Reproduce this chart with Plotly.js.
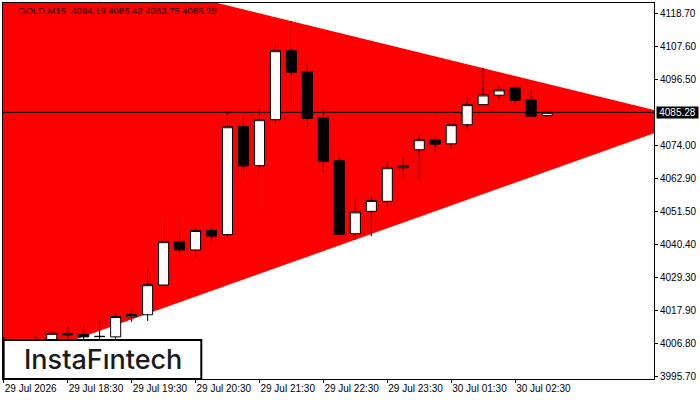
<!DOCTYPE html>
<html>
<head>
<meta charset="utf-8">
<script src="https://cdn.plot.ly/plotly-3.0.1.min.js"></script>
<style>
  html, body { margin: 0; padding: 0; background: #fff; }
  #chart { width: 700px; height: 400px; }
</style>
</head>
<body>
<div id="chart"></div>
<script>
const candleIndex = [0,1,2,3,4,5,6,7,8,9,10,11,12,13,14,15,16,17,18,19,20,21,22,23,24,25,26,27,28,29,30,31,32,33,34];
const opens = [4008.0,4007.5,4007.0,4006.3,4010.3,4009.9,4009.3,4009.1,4015.9,4016.6,4026.7,4041.4,4038.6,4045.2,4043.8,4080.5,4067.2,4082.8,4106.2,4099.1,4083.5,4068.9,4044.1,4051.7,4055.1,4066.5,4072.6,4076.0,4074.6,4081.1,4087.9,4091.1,4093.6,4089.5,4084.19];
const highs = [4009.1,4008.5,4009.3,4010.9,4013.0,4013.4,4015.1,4017.1,4018.4,4032.3,4050.0,4050.3,4047.0,4047.6,4085.6,4083.6,4086.6,4109.3,4116.1,4104.2,4088.0,4071.7,4055.8,4056.8,4069.0,4069.7,4077.8,4077.1,4081.1,4090.0,4100.2,4094.4,4094.1,4092.7,4085.43];
const lows = [4005.0,4005.0,4004.0,4004.6,4008.0,4007.6,4008.0,4007.7,4014.2,4014.5,4026.7,4036.6,4035.9,4040.9,4043.3,4063.3,4051.8,4081.6,4089.4,4080.3,4064.7,4043.6,4042.1,4043.3,4053.5,4063.0,4062.2,4072.1,4072.5,4079.3,4087.8,4089.7,4088.7,4083.7,4083.75];
const closes = [4007.5,4007.0,4006.0,4010.3,4009.8,4009.1,4009.2,4016.0,4016.7,4026.8,4041.4,4038.6,4045.2,4043.3,4080.4,4067.1,4082.8,4106.2,4098.9,4083.3,4068.6,4043.9,4051.5,4055.4,4066.5,4067.2,4076.0,4074.5,4081.1,4087.9,4091.2,4092.9,4089.4,4084.0,4085.28];

const triangleX = [-1, 43.1, -1];
const triangleY = [4141.5, 4082.9, 3997.6];

const priceTicks = [4118.7,4107.6,4096.5,4074.0,4062.9,4051.5,4040.4,4029.3,4017.9,4006.8,3995.7];
const priceLabels = ['4118.70','4107.60','4096.50','4074.00','4062.90','4051.50','4040.40','4029.30','4017.90','4006.80','3995.70'];
const timeTicks = [0,4,8,12,16,20,24,28,32];
const timeLabels = ['29 Jul 2026','29 Jul 18:30','29 Jul 19:30','29 Jul 20:30','29 Jul 21:30','29 Jul 22:30','29 Jul 23:30','30 Jul 01:30','30 Jul 02:30'];
const lastPrice = 4085.28;
const xRange = [-0.05, 40.69];
const yRange = [3994.8, 4122.4];

const tickFont = { family: 'Liberation Sans, Arial, sans-serif', size: 10, color: '#000' };

const trianglePath = 'M' + triangleX.map((x, i) => x + ',' + triangleY[i]).join('L') + 'Z';

const traces = [
  {
    type: 'candlestick',
    x: candleIndex,
    open: opens,
    high: highs,
    low: lows,
    close: closes,
    whiskerwidth: 0,
    increasing: { fillcolor: '#fff', line: { color: '#000', width: 1 } },
    decreasing: { fillcolor: '#000', line: { color: '#000', width: 1 } },
  },
];

const layout = {
  width: 700,
  height: 400,
  margin: { l: 2.5, r: 45.7, t: 2.5, b: 21 },
  paper_bgcolor: '#fff',
  plot_bgcolor: '#fff',
  showlegend: false,
  boxgap: 0.37,
  boxgroupgap: 0,
  xaxis: {
    type: 'linear',
    range: xRange,
    tickmode: 'array',
    tickvals: timeTicks,
    ticktext: timeLabels,
    tickangle: 0,
    ticks: 'outside',
    ticklen: 3,
    tickwidth: 1,
    tickcolor: '#000',
    ticklabelposition: 'outside right',
    tickfont: tickFont,
    showgrid: false,
    zeroline: false,
    showline: true,
    linecolor: '#000',
    linewidth: 1,
    mirror: true,
    rangeslider: { visible: false },
    fixedrange: true,
  },
  yaxis: {
    side: 'right',
    range: yRange,
    tickmode: 'array',
    tickvals: priceTicks,
    ticktext: priceLabels,
    ticks: 'outside',
    ticklen: 3,
    tickwidth: 1,
    tickcolor: '#000',
    tickfont: tickFont,
    showgrid: false,
    zeroline: false,
    showline: true,
    linecolor: '#000',
    linewidth: 1,
    mirror: true,
    fixedrange: true,
  },
  shapes: [
    {
      type: 'path',
      xref: 'x', yref: 'y',
      path: trianglePath,
      fillcolor: '#ff0000',
      line: { width: 0 },
      layer: 'below',
    },
    {
      type: 'line',
      xref: 'x', yref: 'y',
      x0: xRange[0], x1: xRange[1],
      y0: lastPrice, y1: lastPrice,
      line: { color: '#000', width: 1 },
      layer: 'below',
    },
    // logo box sits over the candles in the corner
    {
      type: 'rect',
      xref: 'paper', yref: 'paper',
      x0: 0.001, x1: 0.3046,
      y0: 0, y1: 0.1036,
      fillcolor: '#fff',
      line: { color: '#000', width: 2 },
      layer: 'above',
    },
  ],
  annotations: [
    {
      text: 'GOLD,M15\u00a0\u00a04084.19 4085.43 4083.75 4085.28',
      xref: 'paper', yref: 'paper',
      x: 0.02, y: 1,
      xanchor: 'left', yanchor: 'top',
      showarrow: false,
      font: { family: 'Liberation Sans, Arial, sans-serif', size: 9.5, color: '#200000' },
    },
    {
      text: 'InstaF\u0131ntech',
      xref: 'paper', yref: 'paper',
      x: 0.1535, y: 0.052,
      xanchor: 'center', yanchor: 'middle',
      showarrow: false,
      font: { family: 'Inter, sans-serif', size: 27, weight: 500, color: '#1a1a1a' },
    },
    {
      text: '4085.28',
      xref: 'paper', yref: 'y',
      x: 1.003, y: lastPrice,
      xanchor: 'left', yanchor: 'middle',
      width: 41,
      height: 11,
      align: 'center',
      showarrow: false,
      bgcolor: '#000',
      borderpad: 0,
      font: { family: 'Liberation Sans, Arial, sans-serif', size: 10, color: '#fff' },
    },
  ],
};

Plotly.newPlot('chart', traces, layout, { displayModeBar: false, staticPlot: true });
</script>
</body>
</html>
